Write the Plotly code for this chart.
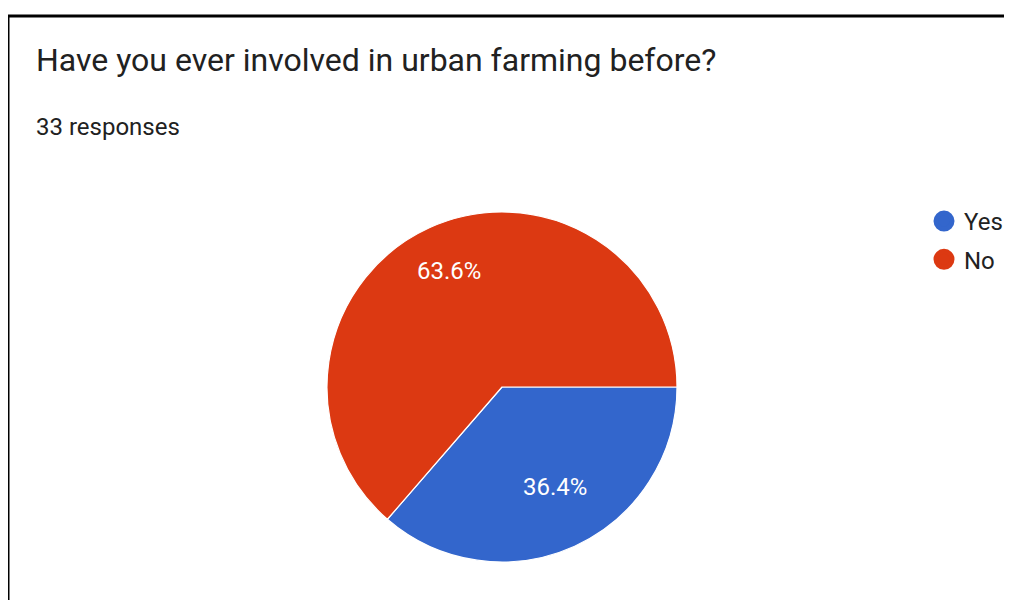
import math
import plotly.graph_objects as go

labels = ["Yes", "No"]
values = [12, 21]
colors = ["#3366cc", "#dc3912"]
title_text = "Have you ever involved in urban farming before?"
subtitle_text = "33 responses"

# The page body adds an 8px margin, so the figure covers the window from (8, 8).
OFF = 8
W, H = 1012 - OFF, 600 - OFF


def px(x):
    return (x - OFF) / W


def py(y):
    return 1 - (y - OFF) / H


cx, cy, R = 502, 387, 175  # target pixel layout of the pie in the window
rotation = 90

fig = go.Figure()
fig.add_trace(go.Pie(
    labels=labels, values=values, sort=False, direction="clockwise",
    rotation=rotation, textinfo="none", hoverinfo="label+percent",
    marker=dict(colors=colors, line=dict(color="white", width=1.2)),
    domain=dict(x=[px(cx - R), px(cx + R)], y=[py(cy + R), py(cy - R)]),
    showlegend=False,
))

for lab, col in zip(labels, colors):
    fig.add_trace(go.Scatter(x=[None], y=[None], mode="markers", name=lab,
                             marker=dict(color=col, size=16, symbol="circle",
                                         line=dict(color=col, width=5)),
                             legendgroup=lab))

total = sum(values)
cum = 0
annotations = []
for v in values:
    a = math.radians(rotation + 360 * (cum + v / 2) / total)
    cum += v
    lx = cx + 0.73 * R * math.sin(a)
    ly = cy - 0.73 * R * math.cos(a)
    annotations.append(dict(x=px(lx), y=py(ly), xref="paper", yref="paper",
                            text=f"{100 * v / total:.1f}%", showarrow=False,
                            font=dict(family="Roboto", size=24, color="white")))

annotations.append(dict(x=px(34), y=py(60), xref="paper", yref="paper", xanchor="left",
                        yanchor="middle", text=title_text, showarrow=False,
                        font=dict(family="Roboto", size=32, color="#212121")))
annotations.append(dict(x=px(34), y=py(127), xref="paper", yref="paper", xanchor="left",
                        yanchor="middle", text=subtitle_text, showarrow=False,
                        font=dict(family="Roboto", size=24, color="#212121")))

fig.update_layout(
    width=W, height=H, margin=dict(l=0, r=0, t=0, b=0),
    paper_bgcolor="white", plot_bgcolor="white",
    xaxis=dict(visible=False), yaxis=dict(visible=False),
    annotations=annotations,
    legend=dict(x=px(924), y=py(199), xanchor="left", yanchor="top",
                font=dict(family="Roboto", size=24, color="#222222"),
                bgcolor="rgba(0,0,0,0)", tracegroupgap=4),
    shapes=[
        dict(type="line", xref="paper", yref="paper", x0=px(8), x1=1.01, y0=py(16), y1=py(16),
             line=dict(color="black", width=3)),
        dict(type="line", xref="paper", yref="paper", x0=px(8), x1=px(8), y0=py(16), y1=-0.01,
             line=dict(color="black", width=3)),
    ],
)

fig.write_html("out.html")
